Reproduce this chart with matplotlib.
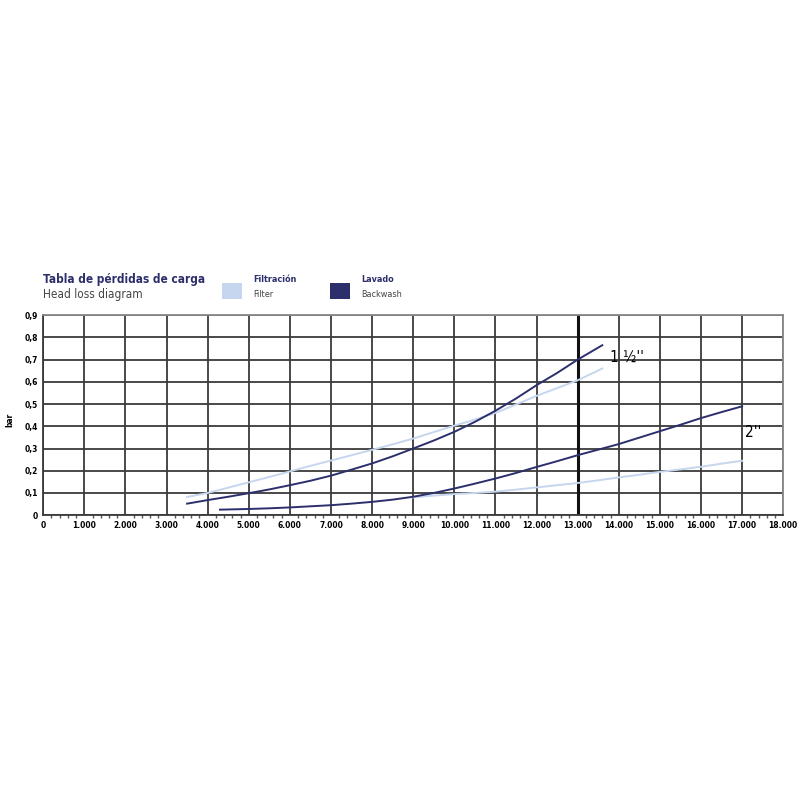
import numpy as np
import matplotlib.pyplot as plt
from matplotlib.patches import Rectangle

q_15_lavado = [3500, 4000, 4500, 5000, 5500, 6000, 6500, 7000, 7500, 8000, 8500, 9000, 9500,
               10000, 10500, 11000, 11500, 12000, 12500, 13000, 13600]
p_15_lavado = [0.052, 0.068, 0.083, 0.099, 0.116, 0.135, 0.155, 0.178, 0.205, 0.233, 0.265, 0.30, 0.336,
               0.375, 0.42, 0.47, 0.525, 0.585, 0.64, 0.70, 0.765]

q_15_filtro = [3500, 4000, 4500, 5000, 5500, 6000, 6500, 7000, 7500, 8000, 8500, 9000, 9500,
               10000, 10500, 11000, 11500, 12000, 12500, 13000, 13600]
p_15_filtro = [0.082, 0.10, 0.124, 0.148, 0.172, 0.197, 0.222, 0.246, 0.27, 0.294, 0.319, 0.345, 0.374,
               0.403, 0.43, 0.46, 0.498, 0.537, 0.572, 0.607, 0.66]

q_2_lavado = [4300, 5000, 5500, 6000, 6500, 7000, 7500, 8000, 8500, 9000, 9500, 10000, 10500, 11000,
              11500, 12000, 12500, 13000, 13500, 14000, 14500, 15000, 15500, 16000, 16500, 17000]
p_2_lavado = [0.025, 0.028, 0.031, 0.035, 0.04, 0.045, 0.052, 0.06, 0.07, 0.083, 0.10, 0.12, 0.142, 0.165,
              0.19, 0.217, 0.243, 0.27, 0.295, 0.32, 0.349, 0.378, 0.407, 0.437, 0.464, 0.49]

q_2_filtro = [9000, 9500, 10000, 10500, 11000, 11500, 12000, 12500, 13000, 13500, 14000, 14500,
              15000, 15500, 16000, 16500, 17000]
p_2_filtro = [0.08, 0.088, 0.095, 0.10, 0.106, 0.115, 0.125, 0.135, 0.145, 0.157, 0.17, 0.182,
              0.195, 0.206, 0.218, 0.232, 0.245]

x_ticks = list(range(0, 18001, 1000))
x_labels = ["0"] + ["{:,}".format(v).replace(",", ".") for v in x_ticks[1:]]
y_ticks = [0, 0.1, 0.2, 0.3, 0.4, 0.5, 0.6, 0.7, 0.8, 0.9]
y_labels = ["0", "0,1", "0,2", "0,3", "0,4", "0,5", "0,6", "0,7", "0,8", "0,9"]

navy = "#2c2f6b"
light = "#c6d6ef"
grid = "#3a3a3a"
fam = ["DejaVu Sans"]
cond = "condensed"

fig = plt.figure(figsize=(8, 8), dpi=100)
ax = fig.add_axes([0.054, 0.356, 0.925, 0.25])

ax.set_xlim(0, 18000)
ax.set_ylim(0, 0.9)
ax.set_xticks(x_ticks)
ax.set_xticklabels(x_labels, fontsize=6, fontweight="bold", family=fam, fontstretch=cond)
ax.set_yticks(y_ticks)
ax.set_yticklabels(y_labels, fontsize=6, fontweight="bold", family=fam, fontstretch=cond)
ax.set_xticks(np.arange(0, 18001, 200), minor=True)
ax.tick_params(axis="both", which="major", length=0, pad=4)
ax.tick_params(axis="x", which="minor", length=2, width=1, color="#555555", direction="out")

ax.grid(True, which="major", color=grid, linewidth=1.3)
ax.set_axisbelow(True)
for s in ["top", "right"]:
    ax.spines[s].set_color("#888888")
    ax.spines[s].set_linewidth(1.3)
ax.spines["left"].set_color(grid)
ax.spines["bottom"].set_color(grid)
ax.spines["left"].set_linewidth(1.3)
ax.spines["bottom"].set_linewidth(1.3)

ax.axvline(13000, color="#111111", linewidth=2.2, zorder=1)

ax.plot(q_15_filtro, p_15_filtro, color=light, linewidth=1.4, zorder=3)
ax.plot(q_2_filtro, p_2_filtro, color=light, linewidth=1.4, zorder=3)
ax.plot(q_15_lavado, p_15_lavado, color=navy, linewidth=1.4, zorder=4)
ax.plot(q_2_lavado, p_2_lavado, color=navy, linewidth=1.4, zorder=4)

ax.text(13780, 0.71, "1 ½''", fontsize=11, family=fam, fontstretch=cond, va="center")
ax.text(17080, 0.37, "2''", fontsize=11, family=fam, fontstretch=cond, va="center")

fig.text(0.012, 0.475, "bar", fontsize=6, fontweight="bold", family=fam, fontstretch=cond,
         rotation=90, ha="center", va="center")

# cabecera y leyenda
fig.text(0.054, 0.651, "Tabla de pérdidas de carga", fontsize=8.5, fontweight="bold",
         color=navy, family=fam, fontstretch=cond, va="center")
fig.text(0.054, 0.632, "Head loss diagram", fontsize=8.5, color="#444444",
         family=fam, fontstretch=cond, va="center")

fig.patches.append(Rectangle((0.278, 0.626), 0.024, 0.020, transform=fig.transFigure,
                             facecolor=light, edgecolor="none"))
fig.text(0.316, 0.651, "Filtración", fontsize=6.5, fontweight="bold", color=navy,
         family=fam, fontstretch=cond, va="center")
fig.text(0.316, 0.632, "Filter", fontsize=6.5, color="#444444", family=fam,
         fontstretch=cond, va="center")

fig.patches.append(Rectangle((0.413, 0.626), 0.024, 0.020, transform=fig.transFigure,
                             facecolor=navy, edgecolor="none"))
fig.text(0.451, 0.651, "Lavado", fontsize=6.5, fontweight="bold", color=navy,
         family=fam, fontstretch=cond, va="center")
fig.text(0.451, 0.632, "Backwash", fontsize=6.5, color="#444444", family=fam,
         fontstretch=cond, va="center")

fig.savefig("out.png", dpi=100)
